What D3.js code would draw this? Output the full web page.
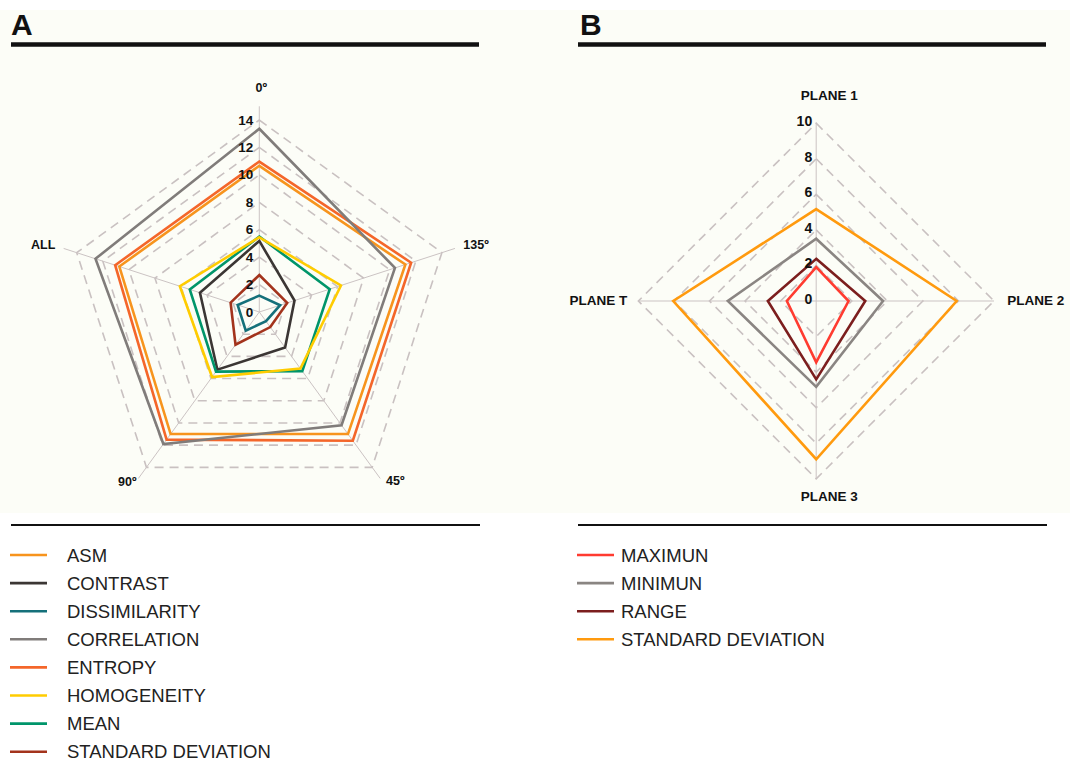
<!DOCTYPE html>
<html>
<head>
<meta charset="utf-8">
<script src="https://cdn.jsdelivr.net/npm/d3@7"></script>
<style>
  html, body { margin: 0; padding: 0; background: #ffffff; }
  svg { display: block; font-family: "Liberation Sans", Arial, sans-serif; }
</style>
</head>
<body>
<svg id="chart" width="1070" height="762"></svg>
<script>
// ---- Panel A: texture features by direction ----
const axesA = ["0º", "135º", "45º", "90º", "ALL"];
const ticksA = [0, 2, 4, 6, 8, 10, 12, 14];
const seriesNamesA = ["ASM", "CONTRAST", "DISSIMILARITY", "CORRELATION", "ENTROPY", "HOMOGENEITY", "MEAN", "STANDARD DEVIATION"];
const colorsA = ["#f7941d", "#3b3634", "#15707a", "#807c7a", "#f4662a", "#ffcc00", "#00956a", "#a3331c"];
const asmA         = [10.66, 11.2, 11.0, 11.0, 10.73];
const contrastA    = [5.18, 2.7, 3.2, 5.2, 4.55];
const dissimA      = [1.19, 1.6, 0.83, 1.68, 1.66];
const correlationA = [13.36, 10.4, 10.2, 11.9, 12.56];
const entropyA     = [10.97, 11.64, 11.6, 11.5, 11.05];
const homogenA     = [5.45, 6.26, 5.1, 5.86, 6.09];
const meanA        = [5.5, 5.4, 5.33, 5.37, 5.33];
const stdA         = [2.7, 2.14, 1.36, 2.95, 2.2];
const valuesA = [asmA, contrastA, dissimA, correlationA, entropyA, homogenA, meanA, stdA];

// ---- Panel B: statistics by plane ----
const axesB = ["PLANE 1", "PLANE 2", "PLANE 3", "PLANE T"];
const ticksB = [0, 2, 4, 6, 8, 10];
const seriesNamesB = ["MAXIMUN", "MINIMUN", "RANGE", "STANDARD DEVIATION"];
const colorsB = ["#ff3b30", "#8a8582", "#7c1e1e", "#ff9a0e"];
const maxB   = [1.9, 1.82, 3.45, 1.65];
const minB   = [3.5, 3.76, 4.83, 4.97];
const rangeB = [2.37, 2.76, 4.41, 2.72];
const stdB   = [5.17, 7.9, 8.9, 8.04];
const valuesB = [maxB, minB, rangeB, stdB];

const svg = d3.select("#chart");

// page background band behind both radar plots
svg.append("rect").attr("x", 0).attr("y", 10).attr("width", 1070).attr("height", 503).attr("fill", "#fcfdf7");

function radar(opts) {
  const g = svg.append("g").attr("transform", `translate(${opts.cx},${opts.cy})`);
  const n = opts.axes.length;
  const r = d3.scaleLinear().domain([0, opts.max]).range([0, opts.radius]);
  const angle = d3.scalePoint().domain(d3.range(n + 1)).range([0, 2 * Math.PI]);
  const pt = (i, v) => [Math.sin(angle(i)) * r(v), -Math.cos(angle(i)) * r(v)];

  // dashed grid polygons
  const gridLine = d3.lineRadial().curve(d3.curveLinearClosed)
    .angle((d, i) => angle(i)).radius(d => r(d));
  opts.ticks.filter(t => t > 0).forEach(t => {
    g.append("path").attr("d", gridLine(d3.range(n).map(() => t)))
      .attr("fill", "none").attr("stroke", "#c9c1c1").attr("stroke-width", 1.6)
      .attr("stroke-dasharray", "9,6");
  });

  // spokes
  d3.range(n).forEach(i => {
    const [x, y] = pt(i, opts.axisExtent);
    g.append("line").attr("x1", 0).attr("y1", 0).attr("x2", x).attr("y2", y)
      .attr("stroke", "#cbc3c3").attr("stroke-width", 1);
  });

  // data polygons
  const line = d3.lineRadial().curve(d3.curveLinearClosed)
    .angle((d, i) => angle(i)).radius(d => r(d));
  opts.order.forEach(k => {
    g.append("path").attr("d", line(opts.values[k]))
      .attr("fill", "none").attr("stroke", opts.colors[k]).attr("stroke-width", 2.6)
      .attr("stroke-linejoin", "miter");
  });

  // tick labels along the first axis
  g.selectAll("text.tick").data(opts.ticks).join("text")
    .attr("class", "tick")
    .attr("x", opts.tickDx).attr("y", d => -r(d) + opts.tickDy)
    .attr("text-anchor", "end").attr("dominant-baseline", "central")
    .attr("font-size", opts.tickSize).attr("font-weight", "bold").attr("fill", "#111")
    .text(d => d);

  // axis names
  opts.axes.forEach((name, i) => {
    const p = opts.labelPos[i];
    g.append("text").attr("x", p[0]).attr("y", p[1])
      .attr("text-anchor", p[2]).attr("dominant-baseline", "central")
      .attr("font-size", opts.labelSize).attr("font-weight", "bold").attr("fill", "#111")
      .text(name);
  });
}

radar({
  cx: 259.3, cy: 312, radius: 192, max: 14, axes: axesA, ticks: ticksA,
  values: valuesA, colors: colorsA, order: [2, 7, 1, 6, 5, 0, 4, 3],
  axisExtent: 15, tickDx: -6, tickDy: 0, tickSize: 13.5, labelSize: 12.5,
  labelPos: [[2, -224, "middle"], [204, -67, "start"], [136, 169, "middle"], [-132, 170, "middle"], [-204, -67, "end"]]
});

radar({
  cx: 816.2, cy: 301, radius: 177.8, max: 10, axes: axesB, ticks: ticksB,
  values: valuesB, colors: colorsB, order: [3, 1, 2, 0],
  axisExtent: 10, tickDx: -4, tickDy: -2, tickSize: 14, labelSize: 13.5,
  labelPos: [[13, -206, "middle"], [191, -1, "start"], [13, 195, "middle"], [-189, -1, "end"]]
});

// panel headers
[["A", 11, 11, 479], ["B", 580, 578, 1046]].forEach(([t, tx, x1, x2]) => {
  svg.append("text").attr("x", tx).attr("y", 35).attr("font-size", 30).attr("font-weight", "bold")
    .attr("fill", "#111").text(t);
  svg.append("line").attr("x1", x1).attr("x2", x2).attr("y1", 44.5).attr("y2", 44.5)
    .attr("stroke", "#111").attr("stroke-width", 4.5);
  svg.append("line").attr("x1", x1).attr("x2", x2 + 1).attr("y1", 525).attr("y2", 525)
    .attr("stroke", "#111").attr("stroke-width", 2);
});

// legends
function legend(names, colors, x0, xt, y0, step) {
  const g = svg.append("g");
  names.forEach((nm, i) => {
    const y = y0 + i * step;
    g.append("line").attr("x1", x0).attr("x2", x0 + 37).attr("y1", y).attr("y2", y)
      .attr("stroke", colors[i]).attr("stroke-width", 2.6);
    g.append("text").attr("x", xt).attr("y", y).attr("dominant-baseline", "central")
      .attr("font-size", 18.5).attr("fill", "#222").text(nm);
  });
}
legend(seriesNamesA, colorsA, 10, 67, 555, 28.1);
legend(seriesNamesB, colorsB, 577, 621, 555, 28.1);
</script>
</body>
</html>
